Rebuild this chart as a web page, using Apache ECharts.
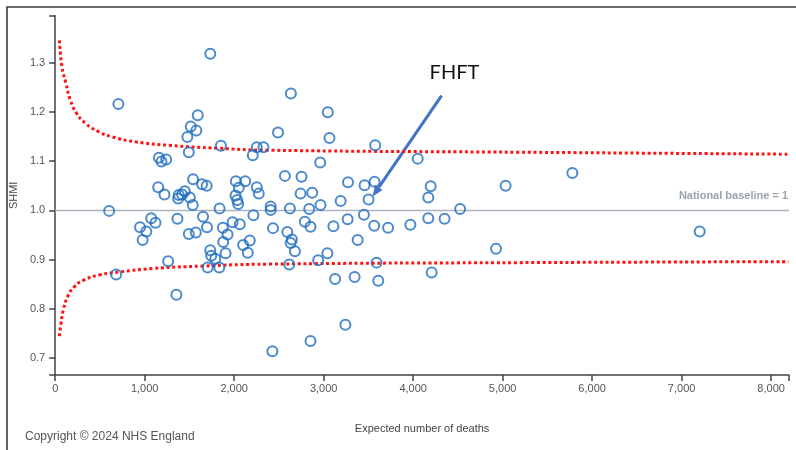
<!DOCTYPE html>
<html>
<head>
<meta charset="utf-8">
<script src="https://cdn.jsdelivr.net/npm/echarts@6/dist/echarts.min.js"></script>
<style>
html,body{margin:0;padding:0;background:#fff;}
#chart{width:796px;height:450px;}
</style>
</head>
<body>
<div id="chart"></div>
<script>
// Expected number of deaths per trust
const expectedDeaths = [706,1733,1593,1515,1577,1477,1852,1493,1159,1188,1240,2253,2327,2208,1541,1641,1693,1151,1221,1448,1381,1374,1418,1504,1537,1837,2019,2123,2052,2015,2034,2045,2253,2275,603,2215,1073,1121,948,1018,977,1366,1652,1696,1493,1571,1874,1926,1878,1982,2063,2175,2100,2152,1733,1744,1789,1904,1262,1704,1834,681,1355,2427,2634,3046,2490,3065,3576,2961,2567,2753,2742,2872,3272,3457,3569,3502,3190,2965,2623,2839,2408,2408,2434,2790,2853,3109,3268,3450,3565,3720,3380,2594,2645,2631,2679,3042,2939,2616,3591,3128,3346,3610,3243,2853,4051,5779,4196,5033,4169,4525,4169,4351,3969,4926,4207,7202];
// SHMI value per trust
const shmi = [1.216,1.318,1.193,1.170,1.162,1.149,1.131,1.118,1.107,1.099,1.103,1.128,1.128,1.112,1.063,1.053,1.050,1.047,1.032,1.039,1.031,1.024,1.032,1.026,1.011,1.004,1.059,1.059,1.046,1.030,1.021,1.013,1.047,1.034,0.999,0.990,0.984,0.975,0.966,0.957,0.940,0.983,0.987,0.966,0.952,0.955,0.965,0.951,0.936,0.976,0.972,0.939,0.930,0.914,0.919,0.908,0.902,0.913,0.897,0.884,0.884,0.870,0.829,0.714,1.237,1.199,1.158,1.147,1.132,1.097,1.070,1.068,1.034,1.036,1.057,1.051,1.058,1.022,1.019,1.011,1.004,1.003,1.008,1.001,0.964,0.977,0.967,0.968,0.982,0.991,0.969,0.965,0.940,0.956,0.941,0.934,0.917,0.913,0.899,0.890,0.894,0.861,0.865,0.857,0.768,0.735,1.105,1.076,1.049,1.050,1.026,1.003,0.984,0.983,0.971,0.922,0.874,0.957];
// Control limits
const upperLimitX = [47,76,120,169,239,343,492,640,899,1270,1826,2383,5200,8192];
const upperLimitY = [1.345,1.291,1.258,1.224,1.197,1.176,1.159,1.149,1.139,1.132,1.126,1.122,1.118,1.114];
const lowerLimitX = [47,65,91,139,213,325,492,714,1085,1641,2383,5200,8192];
const lowerLimitY = [0.745,0.771,0.798,0.825,0.845,0.859,0.869,0.875,0.882,0.887,0.891,0.894,0.896];
const xTicks = [0,1000,2000,3000,4000,5000,6000,7000,8000];
const yTicks = [0.7,0.8,0.9,1.0,1.1,1.2,1.3];
const baseline = 1;
const highlight = {name:'FHFT', x:3502, y:1.022};

const X_MIN = 0, X_MAX = 8200, Y_MIN = 0.666, Y_MAX = 1.395;
const FONT = "'Liberation Sans', Arial, sans-serif";

const chart = echarts.init(document.getElementById('chart'), null, {renderer:'canvas'});
const points = expectedDeaths.map((e,i)=>[e, shmi[i]]);
const upper = upperLimitX.map((e,i)=>[e, upperLimitY[i]]);
const lower = lowerLimitX.map((e,i)=>[e, lowerLimitY[i]]);

chart.setOption({
  animation:false,
  backgroundColor:'#fff',
  grid:{left:52.5, right:7, top:15.7, bottom:75, containLabel:false},
  xAxis:{
    type:'value', min:X_MIN, max:X_MAX,
    name:'Expected number of deaths', nameLocation:'middle', nameGap:48,
    nameTextStyle:{color:'#444', fontSize:11, fontFamily:FONT},
    axisLine:{show:true, lineStyle:{color:'#444', width:1.5}},
    axisTick:{show:true, length:6, lineStyle:{color:'#444', width:1.5}, customValues: xTicks.concat([X_MAX])},
    axisLabel:{color:'#555', fontSize:11, fontFamily:FONT, margin:8, customValues:xTicks,
      formatter:v=>v.toLocaleString('en-US')},
    splitLine:{show:false}
  },
  yAxis:{
    type:'value', min:Y_MIN, max:Y_MAX,
    name:'SHMI', nameLocation:'middle', nameGap:36, nameRotate:90,
    nameTextStyle:{color:'#444', fontSize:11, fontFamily:FONT},
    axisLine:{show:true, lineStyle:{color:'#444', width:1.5}},
    axisTick:{show:true, length:6, lineStyle:{color:'#444', width:1.5}, customValues: [Y_MIN].concat(yTicks).concat([Y_MAX])},
    axisLabel:{color:'#555', fontSize:11, fontFamily:FONT, margin:10, customValues:yTicks,
      formatter:v=>v.toFixed(1)},
    splitLine:{show:false}
  },
  series:[
    {
      type:'line', data:[[X_MIN, baseline],[X_MAX, baseline]], symbol:'none', silent:true,
      lineStyle:{color:'#aab4bf', width:1.5}, z:1
    },
    {
      type:'line', data:upper, smooth:0.5, symbol:'none', silent:true,
      lineStyle:{color:'#ff1414', width:3, type:[3,2.7]}, z:2
    },
    {
      type:'line', data:lower, smooth:0.5, symbol:'none', silent:true,
      lineStyle:{color:'#ff1414', width:3, type:[3,2.7]}, z:2
    },
    {
      type:'scatter', data:points, symbol:'circle', symbolSize:10,
      itemStyle:{color:'rgba(255,255,255,0)', borderColor:'#1f6dbf', borderWidth:2}, z:3
    }
  ]
});

function drawGraphics(){
  const p = chart.convertToPixel({gridIndex:0}, [highlight.x, highlight.y]);
  const tip = [p[0]+4, p[1]-3];
  const start = [tip[0]+69, tip[1]-101];
  const dx = tip[0]-start[0], dy = tip[1]-start[1];
  const len = Math.sqrt(dx*dx+dy*dy);
  const ux = dx/len, uy = dy/len;
  const hl = 11, hw = 4.5;
  const base = [tip[0]-ux*hl, tip[1]-uy*hl];
  const px = -uy, py = ux;
  const bl = chart.convertToPixel({gridIndex:0}, [X_MAX, baseline]);
  chart.setOption({
    graphic:[
      {type:'rect', shape:{x:7, y:7, width:830, height:500}, style:{fill:'none', stroke:'#3a3a3a', lineWidth:1.6}, silent:true},
      {type:'text', left:25, top:431, style:{text:'Copyright © 2024 NHS England', fill:'#555', font:'12px '+FONT}},
      {type:'text', style:{text:'National baseline = 1', x:bl[0]-1, y:bl[1]-14, align:'right', verticalAlign:'middle', fill:'#9aa3ad', font:'bold 11px '+FONT}},
      {type:'text', style:{text:highlight.name, x:start[0]-12, y:start[1]-23, verticalAlign:'middle', align:'left', fill:'#111', font:'20px Lato, "Open Sans", sans-serif'}},
      {type:'line', shape:{x1:start[0], y1:start[1], x2:base[0], y2:base[1]}, style:{stroke:'#4472c4', lineWidth:3}},
      {type:'polygon', shape:{points:[tip,[base[0]+px*hw, base[1]+py*hw],[base[0]-px*hw, base[1]-py*hw]]}, style:{fill:'#4472c4'}}
    ]
  });
}
drawGraphics();
</script>
</body>
</html>
